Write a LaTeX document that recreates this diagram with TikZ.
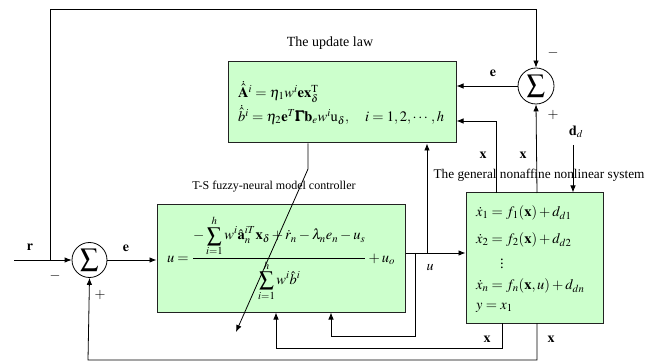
\documentclass[tikz,border=0pt]{standalone}
\usepackage{amsmath}
\usepackage{mathptmx}
\usepackage{fontspec}
\setmainfont{Liberation Serif}
\usetikzlibrary{arrows.meta,calc}
\definecolor{boxgreen}{HTML}{CCFFCC}
\definecolor{boxedge}{HTML}{222222}
\tikzset{
  blk/.style={draw=boxedge,line width=1pt,fill=boxgreen,inner sep=0pt},
  sumnode/.style={draw,circle,line width=0.8pt,minimum size=#1,inner sep=0pt,font=\fontsize{26}{28}\selectfont},
  wire/.style={line width=0.8pt},
  arr/.style={line width=0.8pt,-{Latex[length=7pt,width=5.5pt]}},
  lbl/.style={font=\fontsize{14}{16}\selectfont,inner sep=0pt},
  ttl/.style={font=\fontsize{#1}{16}\selectfont,inner sep=0pt},
  eqn/.style={font=\fontsize{14.5}{16}\selectfont,inner sep=0pt,anchor=west},
}
\begin{document}
\begin{tikzpicture}[x=1pt,y=-1pt]
\useasboundingbox (0,0) rectangle (650,363);
% titles
\node[ttl=14] (tupd) at (330,43) {The update law};
\node[ttl=12] (tctl) at (274,187) {T-S fuzzy-neural model controller};
\node[ttl=13.3] (tsys) at (539,175) {The general nonaffine nonlinear system};
% blocks
\node[blk,minimum width=228pt,minimum height=81pt] (upd) at (342,102.5) {};
\node[eqn] (upd1) at (238,92) {$\dot{\hat{\mathbf{A}}}^{i}=\eta_1 w^{i}\mathbf{e}\mathbf{x}_{\delta}^{\mathrm{T}}$};
\node[eqn] (upd2) at (238,115) {$\dot{\hat{b}}^{i}=\eta_2\mathbf{e}^{T}\pmb{\Gamma}\mathbf{b}_{e}w^{i}\mathrm{u}_{\delta},\quad i=1,2,\cdots,h$};
\node[blk,minimum width=248pt,minimum height=107pt,font=\fontsize{14.5}{16}\selectfont] (ctrl) at (281,258.5)
  {$u=\dfrac{-\displaystyle\sum_{i=1}^{h}w^{i}\hat{\mathbf{a}}_{n}^{iT}\mathbf{x}_{\delta}+\dot{r}_{n}-\lambda_{n}e_{n}-u_{s}}{\displaystyle\sum_{i=1}^{h}w^{i}\hat{b}^{i}}+u_{o}$};
\node[blk,minimum width=137pt,minimum height=130pt] (sys) at (534.5,258) {};
\node[eqn] (sys1) at (476,213) {$\dot{x}_{1}=f_{1}(\mathbf{x})+d_{d1}$};
\node[eqn] (sys2) at (476,240) {$\dot{x}_{2}=f_{2}(\mathbf{x})+d_{d2}$};
\node[eqn] (sys3) at (500,261) {$\vdots$};
\node[eqn] (sys4) at (476,286) {$\dot{x}_{n}=f_{n}(\mathbf{x},u)+d_{dn}$};
\node[eqn] (sys5) at (476,308) {$y=x_{1}$};
% summing junctions
\node[sumnode=35pt,fill=white] (s1) at (89.5,260) {$\sum$};
\node[sumnode=36pt,fill=white] (s2) at (536,86) {$\sum$};
% coordinates
\coordinate (rin) at (14,260);
\coordinate (j0) at (50,260);
\coordinate (tl) at (50,9);
\coordinate (uj1) at (415,253);
\coordinate (uj2) at (427,253);
\coordinate (fb1) at (331,336);
\coordinate (fb2) at (276,348);
\coordinate (fb3) at (88,360);
\coordinate (xo1) at (502,323);
\coordinate (xo2) at (537,323);
\coordinate (xt1) at (496,193);
\coordinate (xt2) at (537,193);
\coordinate (dd) at (573,145);
\coordinate (dg1) at (308,169);
\coordinate (dg2) at (236,332);
% connectors
\draw[arr] (rin) -- (s1.west);
\draw[arr] (j0) -- (tl) -| (s2.north);
\draw[arr] (s1.east) -- (ctrl.west |- s1.east);
\draw[wire] (ctrl.east |- uj1) -- (uj1);
\draw[arr] (uj1) -- (sys.west |- uj2);
\draw[arr] (uj2) -- (uj2 |- upd.south);
\draw[arr] (uj1) |- (fb1) -- (fb1 |- ctrl.south);
\draw[arr] (xo1) |- (fb2) -- (fb2 |- ctrl.south);
\draw[arr] (xo2) |- (fb3) -- (s1.south);
\draw[arr] (xt1) |- (upd.east |- 0,121);
\draw[arr] (xt2) -- (s2.south);
\draw[arr] (s2.west) -- (upd.east |- s2.west);
\draw[arr] (dd) -- (sys.north -| dd);
\draw[arr] (upd.south -| dg1) -- (dg1) -- (dg2);
% labels
\node[lbl] (lr) at (30,247) {$\mathbf{r}$};
\node[lbl] (le1) at (126,248) {$\mathbf{e}$};
\node[lbl] (lm1) at (55,276) {$-$};
\node[lbl] (lp1) at (100,295) {$+$};
\node[lbl] (le2) at (493,73) {$\mathbf{e}$};
\node[lbl] (lm2) at (553,53) {$-$};
\node[lbl] (lp2) at (553,115) {$+$};
\node[lbl] (lx1) at (483,155) {$\mathbf{x}$};
\node[lbl] (lx2) at (523,155) {$\mathbf{x}$};
\node[lbl] (lx3) at (487,339) {$\mathbf{x}$};
\node[lbl] (lx4) at (551,339) {$\mathbf{x}$};
\node[lbl] (lu) at (430,268) {$u$};
\node[lbl] (ldd) at (576,132) {$\mathbf{d}_{d}$};
\end{tikzpicture}
\end{document}
